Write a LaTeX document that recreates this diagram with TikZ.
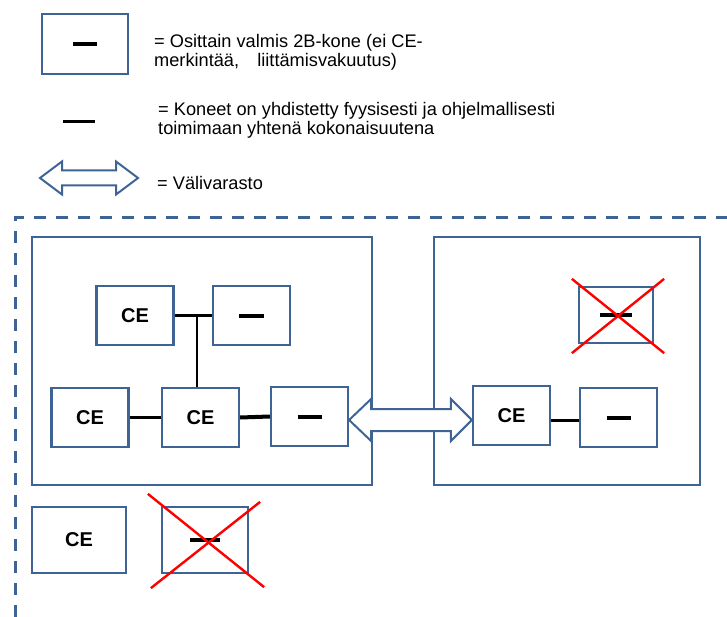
\documentclass[tikz,border=0pt]{standalone}
\usepackage{fontspec}
\setmainfont{Liberation Sans}
\usetikzlibrary{calc}
\definecolor{boxblue}{RGB}{62,100,150}
\definecolor{crossred}{RGB}{255,0,0}

\begin{document}
\begin{tikzpicture}[x=1pt, y=-1pt,
    machine/.style={
        rectangle, draw=boxblue, fill=white, line width=2.2pt,
        minimum width=77pt, minimum height=59pt, inner sep=0pt,
        font=\fontsize{20}{20}\selectfont\bfseries
    },
    cell/.style={rectangle, draw=boxblue, line width=2.4pt, minimum height=248pt, inner sep=0pt},
    legendtext/.style={anchor=base west, align=left, inner sep=0pt, font=\fontsize{18.2}{19}\selectfont},
    link/.style={draw, black, line width=3pt},
    cross/.style={draw=crossred, line width=2.4pt},
    varasto/.style={draw=boxblue, fill=white, line width=2pt, line join=miter},
    frame/.style={draw=boxblue, line width=3pt, dash pattern=on 12pt off 10pt}
]
\useasboundingbox (0,0) rectangle (727,617);

% legend
\node [machine, minimum width=86pt, minimum height=60pt] (legbox) at (85,44) {\rule{24pt}{4.5pt}};
\node [legendtext] (legtext1) at (154,67) {= Osittain valmis 2B-kone (ei CE-\\merkintää,\quad liittämisvakuutus)};
\coordinate (legl) at (63,122);
\coordinate (legr) at (95,122);
\draw [link] (legl) -- (legr);
\node [legendtext] (legtext2) at (158,135) {= Koneet on yhdistetty fyysisesti ja ohjelmallisesti\\toimimaan yhtenä kokonaisuutena};
\draw [varasto] (40,178) -- (62,161.5) -- (62,170.5) -- (116,170.5) -- (116,161.5) -- (138,178)
    -- (116,194.5) -- (116,185.5) -- (62,185.5) -- (62,194.5) -- cycle;
\node [legendtext, anchor=west] (legtext3) at (157,183) {= Välivarasto};

% dashed frame
\draw [frame] (15,617) -- (15,218) -- (727,218);

% lines
\node [cell, minimum width=340pt] (linjaA) at (202,361) {};
\node [cell, minimum width=266pt] (linjaB) at (567,361) {};

\node [machine] (ce1) at (135,315.5) {CE};
\node [machine] (kone1) at (251.5,315.5) {\rule{25pt}{4pt}};
\node [machine] (ce2) at (90,417.5) {CE};
\node [machine] (ce3) at (200.5,417.5) {CE};
\node [machine] (kone2) at (309.5,416.5) {\rule{24pt}{4pt}};

\node [machine] (ce4) at (511.5,415.5) {CE};
\node [machine] (kone3) at (618.5,417.5) {\rule{24pt}{4pt}};
\node [machine, minimum width=74pt, minimum height=56pt] (kone4) at (616,315) {\rule{32pt}{4pt}};

\node [machine, minimum width=94pt, minimum height=66pt] (ce5) at (79,540) {CE};
\node [machine, minimum width=86pt, minimum height=66pt] (kone5) at (205,540) {\rule{30pt}{4pt}};

% connections
\draw [link] (ce1.east) -- (kone1.west);
\coordinate (tee) at ($(ce1.east)!0.6!(kone1.west)$);
\draw [black, line width=2pt] (tee) -- (tee |- ce3.north);
\draw [link] (ce2.east) -- (ce3.west);
\draw [link, line width=4pt] (ce3.east) -- (kone2.west);
\draw [link] ([yshift=-5pt]ce4.east) -- ([yshift=-5pt]ce4.east -| kone3.west);

% intermediate storage
\path (kone2.east) ++(0,3.5) coordinate (vl);
\path (ce4.west) ++(0,4.5) coordinate (vr);
\draw [varasto] (vl) -- ++(22,-21) -- ++(0,10) -- ($(vr)+(-21,-11)$) -- ++(0,-10) -- (vr)
    -- ++(-21,21) -- ++(0,-10) -- ($(vl)+(22,11)$) -- ++(0,10) -- cycle;

% crossed out
\draw [cross] ([shift={(-6,-7)}]kone4.north west) -- ([shift={(10,9)}]kone4.south east);
\draw [cross] ([shift={(10,-7)}]kone4.north east) -- ([shift={(-6,9)}]kone4.south west);
\draw [cross] ([shift={(-13,-12)}]kone5.north west) -- ([shift={(15,13)}]kone5.south east);
\draw [cross] ([shift={(11,-4)}]kone5.north east) -- ([shift={(-10,14)}]kone5.south west);
\end{tikzpicture}
\end{document}
